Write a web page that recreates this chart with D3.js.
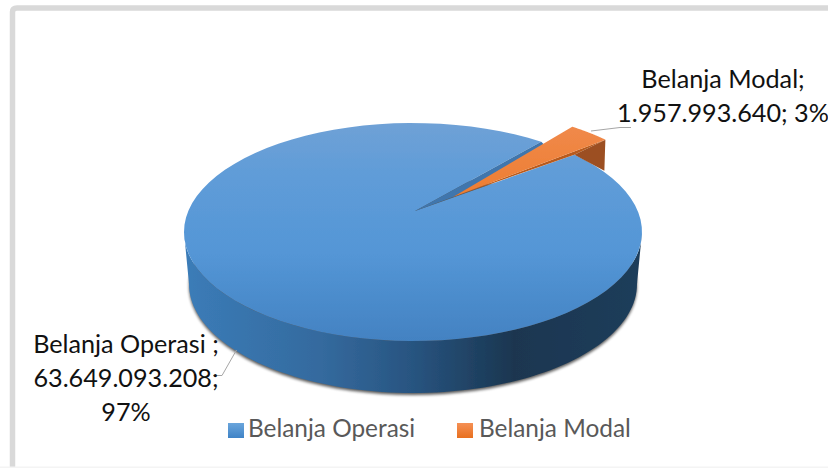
<!DOCTYPE html>
<html><head><meta charset="utf-8">
<script src="https://cdn.jsdelivr.net/npm/d3@7"></script>
<style>html,body{margin:0;padding:0;background:#fff;overflow:hidden}svg{display:block}text{font-family:Lato,"Open Sans",sans-serif}</style>
</head><body><div id="c"></div>
<script>
const categories = ["Belanja Operasi", "Belanja Modal"];
const values = [63649093208, 1957993640];
const labelLines = [["Belanja Operasi ;", "63.649.093.208;", "97%"], ["Belanja Modal;", "1.957.993.640; 3%"]];
const W = 828, H = 468;
const cx = 413, cy = 232, rx = 229, ry = 109;
const cyLow = 284, rxLow = 224, ryLow = 109;
const apexTop = [415, 211];
const start = 44.8 * Math.PI / 180;

const svg = d3.select("#c").append("svg").attr("width", W).attr("height", H);
const defs = svg.append("defs");
function grad(id, stops, horiz) {
  const g = defs.append("linearGradient").attr("id", id)
    .attr("x1", 0).attr("y1", 0).attr("x2", horiz ? 1 : 0).attr("y2", horiz ? 0 : 1);
  stops.forEach(s => g.append("stop").attr("offset", s[0]).attr("stop-color", s[1]));
}
grad("top", [[0, "#6fa1d6"], [0.25, "#5f9cd8"], [0.6, "#5496d6"], [1, "#4382c2"]]);
grad("side", [[0, "#3b7cb8"], [0.3, "#346a9e"], [0.5, "#285480"], [0.72, "#1a3650"], [1, "#1e3d5b"]], true);
grad("orange", [[0, "#f0894a"], [1, "#ed7d31"]]);
grad("legA", [[0, "#6aa5dc"], [1, "#3f83c6"]]);
grad("legB", [[0, "#f59055"], [1, "#e8701f"]]);
defs.append("filter").attr("id", "soft").append("feGaussianBlur").attr("stdDeviation", 0.5);
defs.append("filter").attr("id", "shadow").attr("x", "-10%").attr("y", "-10%").attr("width", "120%").attr("height", "130%")
  .append("feGaussianBlur").attr("stdDeviation", 1.6);

// frame: only the top and left edges are visible, with a faint bottom hairline
svg.append("path").attr("d", "M12.5,468V12Q12.5,8 17,8H828").attr("fill", "none").attr("stroke", "#d9d9d9").attr("stroke-width", 5.5);
svg.append("rect").attr("x", 0).attr("y", 466.5).attr("width", W).attr("height", 1.5).attr("fill", "#f4f4f4");

const arcs = d3.pie().sort(null).value(d => d).startAngle(start).endAngle(start + 2 * Math.PI)(values);
const px = a => cx + rx * Math.sin(a), py = a => cy - ry * Math.cos(a);
const rim = (a0, a1, dx = 0, dy = 0) => d3.range(0, 91).map(i => {
  const a = a0 + (a1 - a0) * i / 90;
  return [px(a) + dx, py(a) + dy];
});
const rimLow = (a0, a1) => d3.range(0, 91).map(i => {
  const a = a0 + (a1 - a0) * i / 90;
  return [cx + rxLow * Math.sin(a), cyLow - ryLow * Math.cos(a)];
});
const line = d3.line();
const closed = pts => line(pts) + "Z";

// ground shadow
svg.append("path").attr("d", closed(rimLow(0, 2 * Math.PI))).attr("fill", "#000").attr("opacity", 0.65)
  .attr("transform", "translate(0,2)").attr("filter", "url(#shadow)");

// side wall of the large slice
const g = svg.append("g").attr("filter", "url(#soft)");
const wall = rim(Math.PI / 2, 3 * Math.PI / 2).concat(rimLow(Math.PI / 2, 3 * Math.PI / 2).reverse());
g.append("path").attr("d", closed(wall)).attr("fill", "url(#side)");

// top of the large slice
const big = arcs[0], small = arcs[1];
g.append("path").attr("d", closed([apexTop].concat(rim(big.startAngle, big.endAngle))))
  .attr("fill", "url(#top)");

// inner shaded wall of the notch
const notchTip = [453, 197];
const a0 = small.startAngle, a1 = small.endAngle;
g.append("path").attr("d", closed([apexTop, [px(a0), py(a0)], [px(a0) + 4, py(a0) + 4], notchTip]))
  .attr("fill", "#3f76ad");

// exploded small slice
const ex = 31, ey = -15, drop = 31;
const o1 = [px(a1) + ex, py(a1) + ey];
g.append("path").attr("d", closed([notchTip, o1, [px(a1), py(a1)]])).attr("fill", "#b85a1c");
g.append("path").attr("d", closed([[px(a1), py(a1)], o1, [o1[0] - 1, o1[1] + drop]])).attr("fill", "#9c5021");
g.append("path").attr("d", closed([notchTip].concat(rim(a0, a1, ex, ey))))
  .attr("fill", "url(#orange)");

// leader lines
svg.append("path").attr("d", line([[591, 131], [620, 127.5], [631, 127.5]])).attr("fill", "none").attr("stroke", "#a6a6a6").attr("stroke-width", 1);
svg.append("path").attr("d", line([[236.5, 350], [222, 375.5], [213, 375.5]])).attr("fill", "none").attr("stroke", "#a6a6a6").attr("stroke-width", 1);

// data labels
const lab = (lines, x, y0, lh) => lines.forEach((t, i) => svg.append("text").attr("x", x).attr("y", y0 + i * lh)
  .attr("text-anchor", "middle").attr("font-size", 25.2).attr("fill", "#111").text(t));
lab(labelLines[0], 126, 353, 34);
lab(labelLines[1], 723, 88, 34);

// legend
const legX = [228, 457], legText = [248, 479];
categories.forEach((c, i) => {
  svg.append("rect").attr("x", legX[i]).attr("y", 423).attr("width", 16).attr("height", 15)
    .attr("fill", i ? "url(#legB)" : "url(#legA)");
  svg.append("text").attr("x", legText[i]).attr("y", 437).attr("font-size", 24.4).attr("fill", "#595959").text(c);
});
</script></body></html>
